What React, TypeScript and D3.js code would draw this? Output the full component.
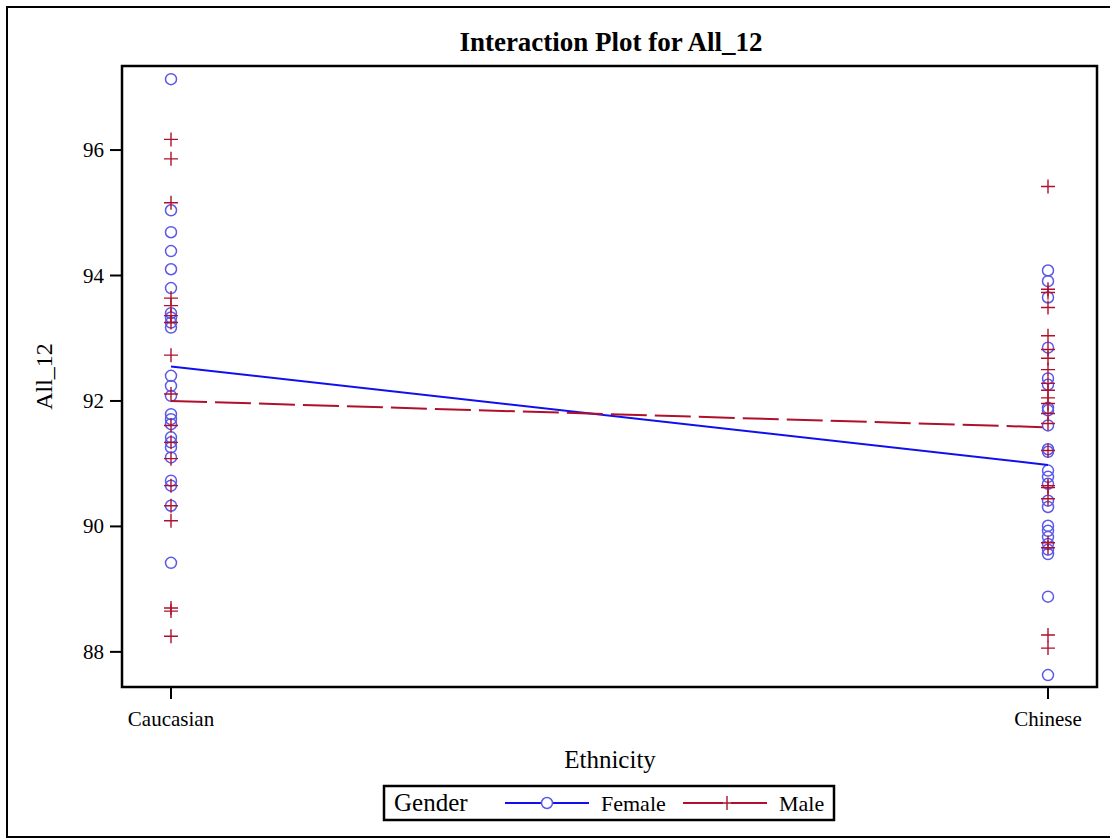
import React from "react"
import * as d3 from "d3"

const ethnicities = ["Caucasian", "Chinese"]

const femaleCaucasian = [
  97.13, 95.04, 94.69, 94.39, 94.1, 93.8, 93.4, 93.33, 93.25, 93.17, 92.4, 92.24,
  92.08, 91.79, 91.71, 91.63, 91.42, 91.34, 91.26, 91.1, 90.73, 90.65, 90.33, 89.42,
]
const femaleChinese = [
  94.08, 93.91, 93.65, 92.85, 92.36, 92.26, 91.89, 91.85, 91.61, 91.23, 91.19, 90.89,
  90.79, 90.68, 90.41, 90.31, 90.01, 89.93, 89.83, 89.72, 89.63, 89.56, 88.88, 87.63,
]
const maleCaucasian = [
  96.17, 95.86, 95.16, 93.64, 93.52, 93.36, 93.25, 92.73, 92.11, 91.61, 91.34, 91.08,
  90.65, 90.33, 90.09, 88.7, 88.65, 88.25,
]
const maleChinese = [
  95.42, 93.78, 93.73, 93.49, 93.04, 92.82, 92.68, 92.5, 92.28, 92.17, 92.05, 91.96,
  91.8, 91.64, 91.21, 90.65, 90.62, 90.44, 89.74, 89.66, 88.27, 88.06,
]

// group means as drawn in the plot
const femaleMeans = [92.55, 90.98]
const maleMeans = [92.0, 91.58]

const yTicks = [88, 90, 92, 94, 96]

const FEMALE_LINE = "#1010ee"
const FEMALE_MARK = "#5a5ae6"
const MALE = "#b0102c"
const FONT = "Liberation Serif, DejaVu Serif, serif"

export default function App() {
  const width = 1110
  const height = 838
  const plot = { left: 122, top: 66, right: 1097, bottom: 687 }

  const x = d3
    .scalePoint<string>()
    .domain(ethnicities)
    .range([171, 1048])

  const y = d3
    .scaleLinear()
    .domain([87.44, 97.34])
    .range([plot.bottom, plot.top])

  const line = d3
    .line<number>()
    .x((_, i) => x(ethnicities[i]) as number)
    .y((d) => y(d))

  const femaleGroups = [femaleCaucasian, femaleChinese]
  const maleGroups = [maleCaucasian, maleChinese]

  const plus = (cx: number, cy: number, s: number, key: string) => (
    <path
      key={key}
      d={`M${cx - s},${cy}H${cx + s}M${cx},${cy - s}V${cy + s}`}
      stroke={MALE}
      strokeWidth={1.4}
      fill="none"
    />
  )

  const txt = (size: number, bold = false): React.CSSProperties => ({
    fontFamily: FONT,
    fontSize: size,
    fontWeight: bold ? "bold" : "normal",
  })

  return (
    <svg
      width={width}
      height={height}
      style={{ position: "absolute", left: 0, top: 0, background: "#fff" }}
    >
      <rect x={7} y={7} width={1110} height={830} fill="none" stroke="#000" strokeWidth={2} />

      <text x={611} y={51} textAnchor="middle" style={txt(27, true)}>
        Interaction Plot for All_12
      </text>

      {/* y axis */}
      {yTicks.map((t) => (
        <g key={t}>
          <line x1={plot.left - 12} x2={plot.left} y1={y(t)} y2={y(t)} stroke="#000" strokeWidth={2} />
          <text x={plot.left - 18} y={y(t) + 7} textAnchor="end" style={txt(21)}>
            {t}
          </text>
        </g>
      ))}
      <text
        transform={`translate(52,${(plot.top + plot.bottom) / 2}) rotate(-90)`}
        textAnchor="middle"
        style={txt(24)}
      >
        All_12
      </text>

      {/* x axis */}
      {ethnicities.map((e) => (
        <g key={e}>
          <line x1={x(e)} x2={x(e)} y1={plot.bottom} y2={plot.bottom + 12} stroke="#000" strokeWidth={2} />
          <text x={x(e)} y={726} textAnchor="middle" style={txt(21)}>
            {e}
          </text>
        </g>
      ))}
      <text x={610} y={768} textAnchor="middle" style={txt(25)}>
        Ethnicity
      </text>

      {/* points */}
      {femaleGroups.map((vals, gi) =>
        vals.map((v, i) => (
          <circle
            key={`f${gi}-${i}`}
            cx={x(ethnicities[gi])}
            cy={y(v)}
            r={5.5}
            fill="none"
            stroke={FEMALE_MARK}
            strokeWidth={1.5}
          />
        ))
      )}
      {maleGroups.map((vals, gi) =>
        vals.map((v, i) => plus(x(ethnicities[gi]) as number, y(v), 7, `m${gi}-${i}`))
      )}

      {/* mean lines */}
      <path d={line(femaleMeans) ?? ""} stroke={FEMALE_LINE} strokeWidth={2} fill="none" />
      <path d={line(maleMeans) ?? ""} stroke={MALE} strokeWidth={2} strokeDasharray="36 8" fill="none" />

      {/* plot frame */}
      <rect
        x={plot.left}
        y={plot.top}
        width={plot.right - plot.left}
        height={plot.bottom - plot.top}
        fill="none"
        stroke="#000"
        strokeWidth={2.5}
      />

      {/* legend */}
      <rect x={384} y={786} width={450} height={34} fill="#fff" stroke="#000" strokeWidth={2.5} />
      <text x={394} y={811} style={txt(25)}>
        Gender
      </text>
      <line x1={505} x2={589} y1={803} y2={803} stroke={FEMALE_LINE} strokeWidth={2} />
      <circle cx={547} cy={803} r={5.5} fill="#fff" stroke={FEMALE_MARK} strokeWidth={1.5} />
      <text x={601} y={811} style={txt(22)}>
        Female
      </text>
      <line x1={683} x2={767} y1={803} y2={803} stroke={MALE} strokeWidth={2} strokeDasharray="40 8" />
      {plus(727, 803, 7, "legend-plus")}
      <text x={779} y={811} style={txt(22)}>
        Male
      </text>
    </svg>
  )
}
